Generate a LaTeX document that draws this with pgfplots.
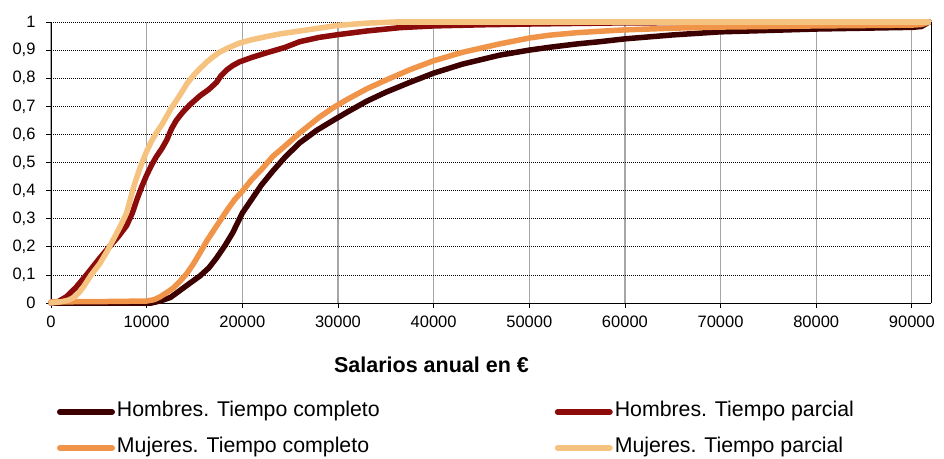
\documentclass[border=0pt]{standalone}
\usepackage{pgfplots}
\pgfplotsset{compat=1.18}
\usepackage{fontspec}
\setmainfont{Liberation Sans}

\definecolor{hcomp}{HTML}{3D0000}
\definecolor{hparc}{HTML}{8C0C0C}
\definecolor{mcomp}{HTML}{F0944A}
\definecolor{mparc}{HTML}{F6C27F}
\definecolor{gridgray}{HTML}{A6A6A6}

\begin{document}
\begin{tikzpicture}
\begin{axis}[
    name=ax,
    scale only axis,
    width=880pt, height=281pt,
    xmin=0, xmax=92000,
    ymin=0, ymax=1,
    clip=false,
    axis x line*=bottom,
    axis y line*=left,
    axis line style={black, line width=1pt},
    tick align=outside,
    major tick length=5pt,
    tick style={black, line width=0.8pt},
    xtick={0,10000,20000,30000,40000,50000,60000,70000,80000,90000},
    scaled x ticks=false,
    xticklabel style={/pgf/number format/set thousands separator={}, /pgf/number format/assume math mode=true, font=\fontsize{16.5}{19}\selectfont, yshift=-4pt},
    ytick={0,0.1,0.2,0.3,0.4,0.5,0.6,0.7,0.8,0.9,1},
    yticklabels={0,{0,1},{0,2},{0,3},{0,4},{0,5},{0,6},{0,7},{0,8},{0,9},1},
    yticklabel style={font=\fontsize{16.5}{19}\selectfont, xshift=-7pt},
    xmajorgrids, ymajorgrids,
    x grid style={gridgray, line width=1.2pt},
    y grid style={black, line width=0.7pt, dash pattern=on 1pt off 1pt},
    xlabel={Salarios anual en €},
    xlabel style={at={(axis description cs:0.4324,-0.2206)}, anchor=center, font=\fontsize{21.5}{25}\selectfont\bfseries},
    legend columns=2,
    legend cell align=left,
    legend image code/.code={\draw[line width=6pt, line cap=round, #1] (3pt,0pt) -- (55pt,0pt);},
    legend style={draw=none, fill=none, inner sep=0pt, outer sep=0pt,
        anchor=north west, at={(axis description cs:0.0068,-0.352)},
        font=\fontsize{21.3}{25}\selectfont,
        nodes={inner xsep=2pt, inner ysep=0pt, text height=15pt, text depth=5pt},
        /tikz/column sep=0pt, /tikz/row sep=16pt,
        /tikz/every even column/.append style={column sep=173pt}},
    every axis plot/.append style={line width=5.5pt, line join=round, line cap=round},
]
\addplot[hcomp] coordinates {
    (0,0) (10500,0) (11500,0.008) (12500,0.02) (13500,0.045) (14500,0.07)
    (15600,0.097) (16500,0.125) (17300,0.16) (18200,0.205) (19000,0.25)
    (20000,0.32) (21000,0.37) (22000,0.42) (23200,0.47) (24500,0.52)
    (26000,0.57) (27800,0.615) (29500,0.65) (31000,0.68) (33000,0.718)
    (35000,0.75) (37500,0.785) (40000,0.818) (43000,0.85) (46900,0.882)
    (50000,0.9) (52100,0.91) (55000,0.922) (57400,0.93) (60000,0.94)
    (65000,0.954) (70000,0.965) (75000,0.97) (80000,0.975) (85000,0.978)
    (90000,0.981) (91000,0.984) (91800,1)
};
\addlegendentry{Hombres. Tiempo completo}
\addplot[hparc] coordinates {
    (0,0) (800,0.006) (1600,0.022) (2600,0.055) (3700,0.1) (5100,0.16)
    (6100,0.2) (7000,0.235) (7900,0.275) (8500,0.32) (9000,0.37)
    (9500,0.415) (10000,0.455) (10500,0.49) (11000,0.52) (11600,0.55)
    (12100,0.58) (12600,0.62) (13100,0.65) (13800,0.68) (14500,0.705)
    (15000,0.72) (15600,0.738) (16500,0.76) (17300,0.785) (17800,0.81)
    (18400,0.83) (19000,0.845) (19700,0.858) (21000,0.874) (22500,0.89)
    (24500,0.91) (26000,0.93) (28000,0.945) (30000,0.955) (33000,0.968)
    (36500,0.98) (40000,0.986) (45000,0.99) (50400,0.993) (60000,0.997)
    (70000,0.998) (91800,1)
};
\addlegendentry{Hombres. Tiempo parcial}
\addplot[mcomp] coordinates {
    (0,0.004) (5000,0.005) (10000,0.007) (10800,0.012) (11400,0.022)
    (12100,0.037) (12800,0.054) (13500,0.078) (14200,0.105) (14900,0.14)
    (15600,0.18) (16300,0.222) (17000,0.258) (17700,0.294) (18500,0.335)
    (19200,0.368) (20000,0.398) (21000,0.44) (22000,0.475) (23200,0.522)
    (24500,0.56) (26000,0.605) (28000,0.66) (29500,0.695) (31000,0.725)
    (33000,0.762) (35000,0.793) (37500,0.83) (40000,0.862) (43000,0.892)
    (46900,0.922) (50000,0.943) (52100,0.953) (55000,0.962) (57400,0.967)
    (60000,0.972) (65000,0.978) (70000,0.982) (80000,0.986) (90000,0.989)
    (91000,0.991) (91800,1)
};
\addlegendentry{Mujeres. Tiempo completo}
\addplot[mparc] coordinates {
    (0,0) (1000,0.004) (1800,0.01) (2400,0.02) (3000,0.04) (3400,0.058)
    (4200,0.1) (5100,0.14) (5800,0.18) (6500,0.225) (7200,0.27) (7900,0.32)
    (8300,0.37) (8700,0.42) (9300,0.48) (10000,0.54) (10500,0.575)
    (11000,0.605) (11600,0.635) (12100,0.665) (12600,0.695) (13100,0.72)
    (13700,0.752) (14200,0.78) (14900,0.81) (15600,0.835) (16300,0.858)
    (16900,0.875) (17600,0.892) (18400,0.906) (19700,0.925) (21000,0.937)
    (22500,0.948) (24000,0.958) (26000,0.968) (28000,0.978) (30000,0.988)
    (33000,0.996) (36000,1) (91800,1)
};
\addlegendentry{Mujeres. Tiempo parcial}
\draw[black, line width=1pt] (rel axis cs:1,0) -- (rel axis cs:1,1);
\end{axis}
\pgfresetboundingbox
\path[use as bounding box] ([shift={(-51pt,-155pt)}]ax.south west) rectangle ([shift={(13pt,22pt)}]ax.north east);
\end{tikzpicture}
\end{document}
